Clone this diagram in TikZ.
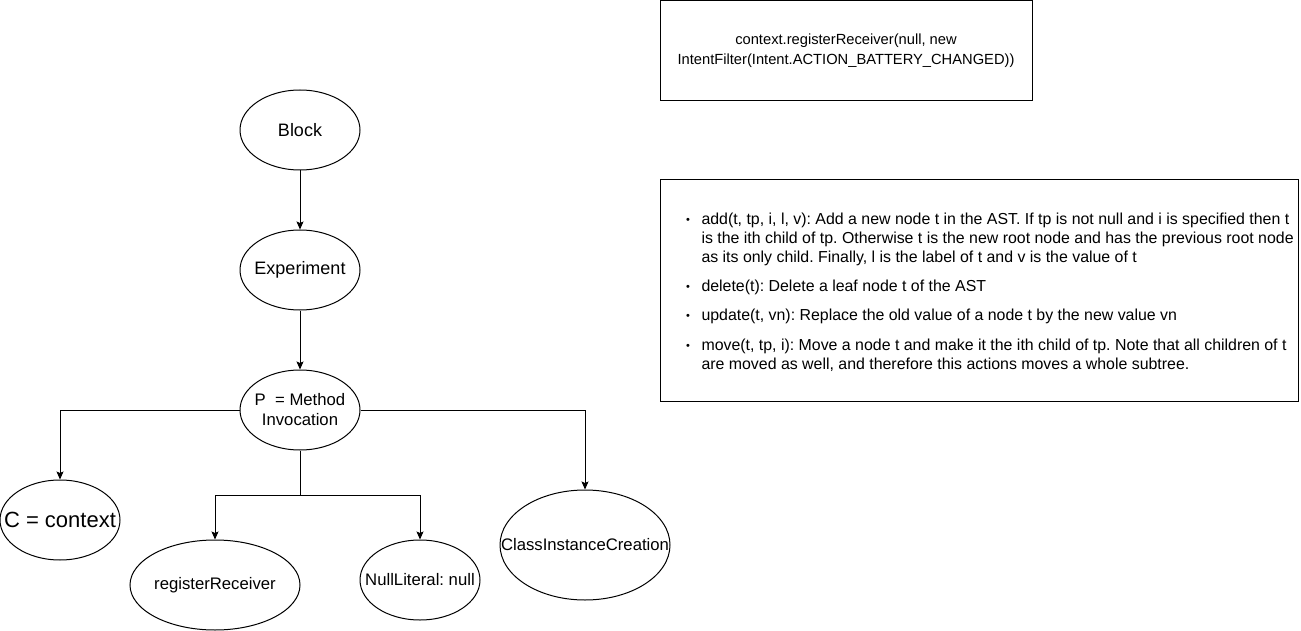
\documentclass[tikz,border=0pt]{standalone}
\usepackage{fontspec}
\setmainfont{Liberation Sans}
\usetikzlibrary{shapes.geometric,arrows.meta}
\frenchspacing

\begin{document}
\begin{tikzpicture}[x=1pt, y=-1pt, line width=1pt, >={Stealth[length=8pt,width=7pt,inset=1.5pt]},
  ast/.style={draw, ellipse, inner sep=0pt, minimum width=120pt, minimum height=80pt},
  lbl/.style={font=\fontsize{16.7}{20}\selectfont, align=center},
  big/.style={font=\fontsize{18}{22}\selectfont},
  box/.style={draw, rectangle, inner sep=0pt, align=center},
  item/.style={inner sep=0pt, align=left, anchor=north west, font=\fontsize{15.9}{19}\selectfont}]
\useasboundingbox (0,0) rectangle (1301,631);

% the AST
\node[ast, label={[lbl, big]center:Block}] (block) at (300,130) {};
\node[ast, label={[lbl, big]center:Experiment}] (exp) at (300,270) {};
\node[ast, label={[lbl]center:{P\ \ = Method\\Invocation}}] (mi) at (300,410) {};
\node[ast, label={[lbl, font=\fontsize{22}{26}\selectfont]center:C = context}] (ctx) at (60,520) {};
\node[ast, minimum width=170pt, minimum height=90pt, label={[lbl]center:registerReceiver}] (rr) at (215,585) {};
\node[ast, label={[lbl]center:NullLiteral: null}] (nl) at (420,580) {};
\node[ast, minimum width=170pt, minimum height=110pt, label={[lbl]center:ClassInstanceCreation}] (cic) at (585,545) {};

\draw[->] (block) -- (exp);
\draw[->] (exp) -- (mi);
\draw[->] (mi.west) -| (ctx.north);
\draw[->] (mi.east) -| (cic.north);
\coordinate (split) at (300,495);
\draw (mi.south) -- (split);
\draw[->] (split) -| (rr.north);
\draw[->] (split) -| (nl.north);

% the statement
\node[box, minimum width=372pt, minimum height=100pt, font=\fontsize{14.7}{20}\selectfont] (code) at (846,50.5)
  {context.registerReceiver(null, new\\IntentFilter(Intent.ACTION\_BATTERY\_CHANGED))};

% the edit actions
\node[box, minimum width=638pt, minimum height=221pt] (ops) at (979,290.5) {};
\foreach \y in {221,288,316.5,347}
  \node[font=\fontsize{11}{11}\selectfont] (bullet\y) at (688,\y) {\textbullet};
\node[item] (add) at (701,212.5) {add(t, tp, i, l, v): Add a new node t in the AST. If tp is not null and i is specified then t\\is the ith child of tp. Otherwise t is the new root node and has the previous root node\\as its only child. Finally, l is the label of t and v is the value of t};
\node[item] (del) at (701,279.5) {delete(t): Delete a leaf node t of the AST};
\node[item] (upd) at (701,308.5) {update(t, vn): Replace the old value of a node t by the new value vn};
\node[item] (mov) at (701,338.5) {move(t, tp, i): Move a node t and make it the ith child of tp. Note that all children of t\\are moved as well, and therefore this actions moves a whole subtree.};
\end{tikzpicture}
\end{document}
